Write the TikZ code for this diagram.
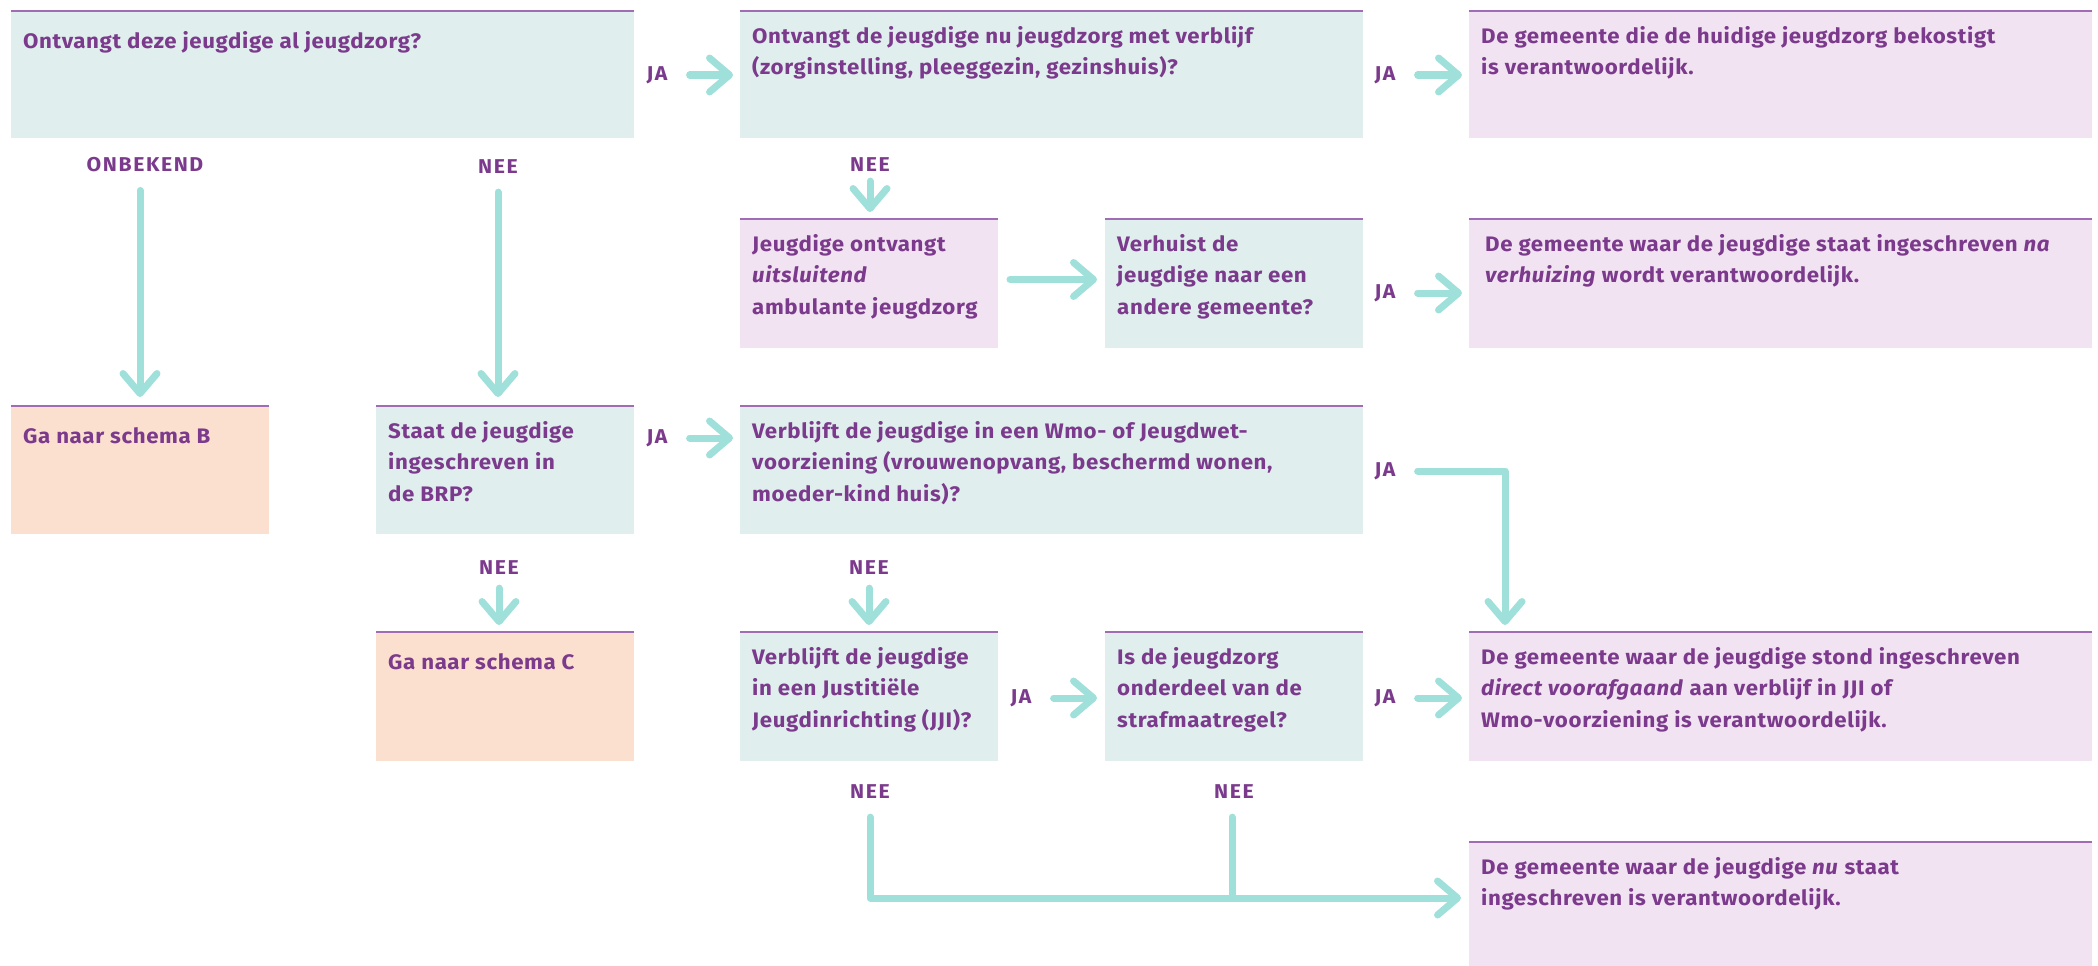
\documentclass[tikz,border=0pt]{standalone}
\usepackage{fontspec}
\setmainfont{Fira Sans}
\newfontfamily\txtfont{Fira Sans}[FakeStretch=1.06, LetterSpace=3]
\newfontfamily\lblfont{Fira Sans}[FakeStretch=1.06, LetterSpace=8]
\usetikzlibrary{arrows.meta}
\definecolor{tealbg}{HTML}{E0EFEE}
\definecolor{pinkbg}{HTML}{F2E3F2}
\definecolor{peachbg}{HTML}{FBE0CF}
\definecolor{purpletxt}{HTML}{7B3A8C}
\definecolor{toplinec}{HTML}{A06DB5}
\definecolor{arrowc}{HTML}{A0E0DA}
\begin{document}
\begin{tikzpicture}[x=1pt,y=-1pt,
  box/.style={draw=none, inner sep=0pt, outer sep=0pt, anchor=north west},
  tealbox/.style={box, fill=tealbg},
  pinkbox/.style={box, fill=pinkbg},
  peachbox/.style={box, fill=peachbg},
  wide/.style={minimum width=623pt},
  narrow/.style={minimum width=258pt},
  txt/.style={inner sep=0pt, anchor=north west, align=left, text=purpletxt,
    font=\txtfont\fontsize{21}{31.5}\selectfont\bfseries, execute at begin node=\strut},
  lbl/.style={inner sep=0pt, text=purpletxt, font=\lblfont\fontsize{20}{22}\selectfont\bfseries},
  conn/.style={draw=arrowc, line width=7pt, line cap=round, line join=round},
  arr/.style={conn, -{Straight Barb[length=20pt,width=34pt,round]}},
  tline/.style={draw=toplinec, line width=2.5pt}
]
\useasboundingbox (0,0) rectangle (2098,966);

% boxes
\node[tealbox, wide, minimum height=127pt] (A) at (11,11) {};
\node[tealbox, wide, minimum height=127pt] (B) at (740,11) {};
\node[pinkbox, wide, minimum height=127pt] (C) at (1469,11) {};
\node[pinkbox, narrow, minimum height=129pt] (D) at (740,219) {};
\node[tealbox, narrow, minimum height=129pt] (E) at (1105,219) {};
\node[pinkbox, wide, minimum height=129pt] (F) at (1469,219) {};
\node[peachbox, narrow, minimum height=128pt] (G) at (11,406) {};
\node[tealbox, narrow, minimum height=128pt] (H) at (376,406) {};
\node[tealbox, wide, minimum height=128pt] (I) at (740,406) {};
\node[peachbox, narrow, minimum height=129pt] (J) at (376,632) {};
\node[tealbox, narrow, minimum height=129pt] (K) at (740,632) {};
\node[tealbox, narrow, minimum height=129pt] (L) at (1105,632) {};
\node[pinkbox, wide, minimum height=129pt] (M) at (1469,632) {};
\node[pinkbox, wide, minimum height=124pt] (N) at (1469,842) {};

\foreach \n in {A,B,C,D,E,F,G,H,I,J,K,L,M,N}
  \draw[tline] (\n.north west) -- (\n.north east);

% texts
\node[txt] (At) at ([shift={(12pt,-15pt)}]A.north west) {Ontvangt deze jeugdige al jeugdzorg?};
\node[txt] (Bt) at ([shift={(12pt,-15pt)}]B.north west) {Ontvangt de jeugdige nu jeugdzorg met verblijf\\(zorginstelling, pleeggezin, gezinshuis)?};
\node[txt] (Ct) at ([shift={(12pt,-15pt)}]C.north west) {De gemeente die de huidige jeugdzorg bekostigt\\is verantwoordelijk.};
\node[txt] (Dt) at ([shift={(12pt,-15pt)}]D.north west) {Jeugdige ontvangt\\\textit{uitsluitend}\\ambulante jeugdzorg};
\node[txt] (Et) at ([shift={(12pt,-15pt)}]E.north west) {Verhuist de\\jeugdige naar een\\andere gemeente?};
\node[txt] (Ft) at ([shift={(16pt,-15pt)}]F.north west) {De gemeente waar de jeugdige staat ingeschreven \textit{na}\\\textit{verhuizing} wordt verantwoordelijk.};
\node[txt] (Gt) at ([shift={(12pt,-15pt)}]G.north west) {Ga naar schema B};
\node[txt] (Ht) at ([shift={(12pt,-15pt)}]H.north west) {Staat de jeugdige\\ingeschreven in\\de BRP?};
\node[txt] (It) at ([shift={(12pt,-15pt)}]I.north west) {Verblijft de jeugdige in een Wmo- of Jeugdwet-\\voorziening (vrouwenopvang, beschermd wonen,\\moeder-kind huis)?};
\node[txt] (Jt) at ([shift={(12pt,-15pt)}]J.north west) {Ga naar schema C};
\node[txt] (Kt) at ([shift={(12pt,-15pt)}]K.north west) {Verblijft de jeugdige\\in een Justitiële\\Jeugdinrichting (JJI)?};
\node[txt] (Lt) at ([shift={(12pt,-15pt)}]L.north west) {Is de jeugdzorg\\onderdeel van de\\strafmaatregel?};
\node[txt] (Mt) at ([shift={(12pt,-15pt)}]M.north west) {De gemeente waar de jeugdige stond ingeschreven\\\textit{direct voorafgaand} aan verblijf in JJI of\\Wmo-voorziening is verantwoordelijk.};
\node[txt] (Nt) at ([shift={(12pt,-15pt)}]N.north west) {De gemeente waar de jeugdige \textit{nu} staat\\ingeschreven is verantwoordelijk.};

% labels
\node[lbl] (ja1) at (657,75) {JA};
\node[lbl] (ja2) at (1385,75) {JA};
\node[lbl] (onb) at (145,165) {ONBEKEND};
\node[lbl] (nee1) at (498,167) {NEE};
\node[lbl] (nee2) at (870,165) {NEE};
\node[lbl] (ja3) at (1385,293) {JA};
\node[lbl] (ja4) at (657,438) {JA};
\node[lbl] (ja5) at (1385,471) {JA};
\node[lbl] (nee3) at (499,568) {NEE};
\node[lbl] (nee4) at (869,568) {NEE};
\node[lbl] (ja6) at (1021,698) {JA};
\node[lbl] (ja7) at (1385,698) {JA};
\node[lbl] (nee5) at (870,792) {NEE};
\node[lbl] (nee6) at (1234,792) {NEE};

\coordinate (c5) at (1505,470);
\coordinate (c6) at (1232,898);

% connectors
\draw[arr] ([xshift=22pt]ja1.east) -- ([xshift=-7pt]B.west |- ja1.east);
\draw[arr] ([xshift=22pt]ja2.east) -- ([xshift=-7pt]C.west |- ja2.east);
\draw[arr] ([yshift=-18pt]G.north |- onb.south) -- ([yshift=9pt]G.north);
\draw[arr] ([yshift=-18pt]nee1.south) -- ([yshift=9pt]nee1.south |- H.north);
\draw[arr] ([yshift=-9pt]nee2.south) -- ([yshift=7pt]nee2.south |- D.north);
\draw[arr] ([shift={(12pt,4pt)}]D.east) -- ([shift={(-8pt,4pt)}]E.west);
\draw[arr] ([xshift=22pt]ja3.east) -- ([xshift=-7pt]F.west |- ja3.east);
\draw[arr] ([xshift=22pt]ja4.east) -- ([xshift=-7pt]I.west |- ja4.east);
\draw[arr] ([xshift=22pt]ja5.east) -| ([yshift=7pt]c5 |- M.north);
\draw[arr] ([yshift=-13pt]nee3.south) -- ([yshift=7pt]nee3.south |- J.north);
\draw[arr] ([yshift=-13pt]nee4.south) -- ([yshift=7pt]nee4.south |- K.north);
\draw[arr] ([xshift=22pt]ja6.east) -- ([xshift=-8pt]L.west |- ja6.east);
\draw[arr] ([xshift=22pt]ja7.east) -- ([xshift=-7pt]M.west |- ja7.east);
\draw[arr] ([yshift=-18pt]nee5.south) |- ([xshift=-8pt]N.west |- c6);
\draw[conn] ([yshift=-18pt]nee6.south -| c6) -- (c6);
\end{tikzpicture}
\end{document}
